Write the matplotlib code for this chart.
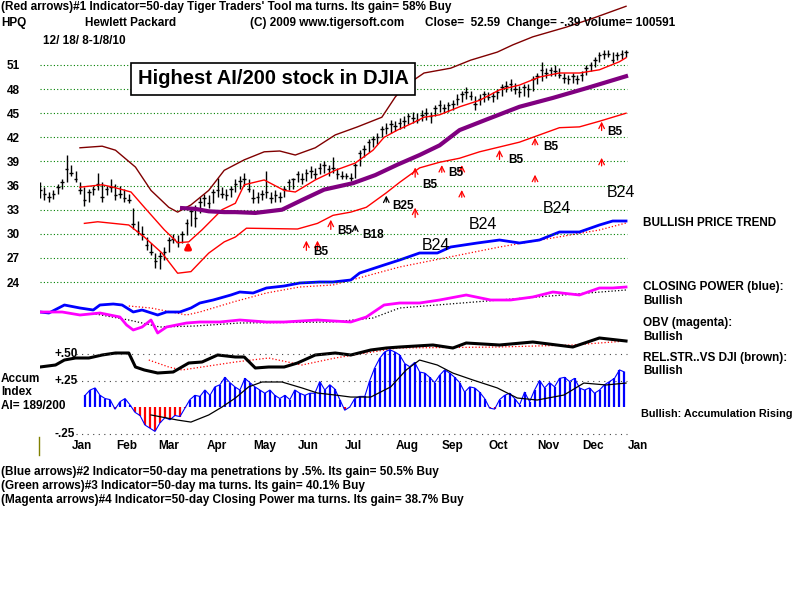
import numpy as np
import matplotlib.pyplot as plt
from matplotlib.lines import Line2D

plt.rcParams['font.family'] = ['Liberation Sans', 'DejaVu Sans']

# price bars, one every 2 trading days from 12/18/08 to 1/8/10
bar_high = [36.5, 35.8, 35.2, 35.5, 36.2, 36.8, 39.8, 38.6, 37.8, 36.5,
            35.8, 35.6, 36.0, 37.6, 36.4, 36.0, 36.8, 36.2, 36.0, 35.6,
            35.0, 33.2, 31.6, 31.0, 29.6, 28.8, 27.6, 27.8, 28.4, 29.6,
            30.0, 29.8, 30.4, 31.8, 33.2, 33.6, 34.6, 35.0, 34.8, 35.6,
            37.0, 35.8, 35.6, 36.0, 36.8, 37.2, 37.6, 36.8, 35.6, 35.2,
            35.4, 37.8, 35.2, 35.4, 35.2, 36.0, 36.8, 37.0, 37.8, 37.6,
            38.0, 38.4, 38.2, 38.8, 39.0, 38.6, 39.6, 38.2, 37.8, 37.6,
            37.6, 38.8, 40.4, 41.0, 41.8, 42.2, 42.6, 43.4, 43.8, 44.2,
            44.0, 44.4, 44.6, 45.0, 45.2, 45.0, 45.4, 45.6, 45.2, 46.0,
            46.6, 46.2, 46.4, 46.6, 47.4, 47.8, 48.2, 47.8, 47.2, 47.4,
            47.8, 47.6, 47.6, 48.0, 48.6, 49.0, 49.2, 48.8, 48.4, 48.6,
            48.6, 49.6, 50.0, 51.4, 50.6, 50.8, 51.0, 50.6, 50.0, 49.8,
            50.0, 49.8, 50.2, 51.0, 51.4, 52.0, 52.6, 52.8, 52.8, 52.6,
            52.6, 52.8, 52.8]
bar_low = [34.5, 34.2, 34.0, 34.3, 35.0, 35.6, 36.5, 37.2, 36.4, 35.0,
           33.4, 34.0, 34.8, 35.4, 34.0, 34.8, 35.2, 34.2, 34.4, 34.0,
           33.8, 30.6, 29.8, 29.2, 28.0, 27.4, 25.8, 25.6, 26.8, 27.8,
           28.8, 28.4, 28.8, 29.8, 31.0, 30.8, 32.6, 33.4, 33.2, 33.8,
           34.6, 34.4, 34.2, 34.6, 35.2, 35.6, 36.0, 35.2, 33.8, 33.8,
           34.2, 34.4, 33.8, 34.0, 33.9, 34.6, 35.4, 35.6, 36.4, 36.2,
           36.6, 37.0, 36.8, 37.4, 37.6, 37.2, 37.6, 36.8, 36.8, 36.8,
           36.6, 37.0, 38.4, 39.6, 40.2, 40.8, 41.2, 42.0, 42.4, 42.6,
           42.8, 43.0, 43.2, 43.6, 43.8, 43.8, 44.0, 44.2, 43.8, 44.6,
           45.2, 45.0, 45.2, 45.4, 46.0, 46.4, 46.8, 46.6, 45.4, 46.0,
           46.4, 46.6, 46.4, 46.8, 47.2, 47.6, 47.8, 47.4, 47.0, 47.2,
           47.0, 47.8, 48.6, 49.0, 49.4, 49.6, 49.6, 49.4, 48.8, 48.6,
           48.8, 48.6, 49.0, 49.8, 50.2, 50.8, 51.4, 51.8, 52.0, 51.2,
           51.6, 51.8, 52.0]
bar_close = [35.5, 35.0, 34.6, 35.0, 35.8, 36.4, 38.0, 37.6, 36.8, 35.5,
             34.2, 35.2, 35.6, 36.2, 34.6, 35.6, 35.8, 34.8, 35.0, 34.4,
             34.2, 31.2, 30.4, 30.0, 28.6, 27.8, 26.6, 27.2, 27.8, 29.2,
             29.4, 29.0, 30.0, 31.4, 32.8, 32.0, 34.0, 34.4, 33.8, 35.2,
             35.4, 35.0, 34.8, 35.6, 36.2, 36.6, 36.8, 35.6, 34.4, 34.6,
             35.0, 35.2, 34.4, 34.8, 34.6, 35.6, 36.4, 36.8, 37.4, 36.8,
             37.6, 37.8, 37.4, 38.2, 38.6, 38.0, 38.2, 37.4, 37.2, 37.2,
             37.0, 38.6, 40.0, 40.6, 41.4, 41.8, 42.0, 43.0, 43.2, 43.6,
             43.4, 43.8, 44.0, 44.6, 44.4, 44.2, 44.8, 45.0, 44.6, 45.6,
             46.0, 45.6, 46.0, 46.2, 46.8, 47.4, 47.6, 47.2, 46.2, 46.8,
             47.4, 47.0, 47.2, 47.6, 48.2, 48.4, 48.6, 48.0, 47.6, 48.2,
             48.0, 49.2, 49.6, 50.4, 50.0, 50.4, 50.2, 49.8, 49.4, 49.2,
             49.6, 49.2, 49.8, 50.6, 51.0, 51.6, 52.2, 52.4, 52.4, 51.6,
             52.2, 52.4, 52.59]

# bands and moving averages (trading day, price)
upper_days = [18, 28, 34, 43, 50, 58, 62, 68, 76, 83, 92, 101, 108, 115,
              124, 133, 143, 154, 160, 164, 173, 185, 194, 206, 213, 222,
              237, 249, 264]
upper_band = [40.7, 40.9, 40.4, 38.3, 35.4, 33.3, 32.7, 33.6, 35.4, 37.9,
              39.2, 40.2, 40.3, 39.8, 40.7, 42.3, 43.3, 44.5, 47.0, 48.3,
              50.0, 50.6, 51.6, 52.6, 53.5, 54.5, 55.7, 56.8, 58.3]
mid_days = [18, 28, 33, 41, 47, 56, 62, 67, 73, 82, 88, 92, 101, 110, 115,
            124, 133, 142, 150, 155, 161, 168, 173, 180, 189, 198, 207,
            216, 225, 234, 243, 252, 261, 264]
mid_ma = [35.8, 36.1, 35.8, 35.2, 33.3, 30.5, 28.9, 29.0, 30.5, 33.0,
          33.8, 36.1, 36.7, 35.4, 35.2, 36.7, 37.9, 38.8, 40.4, 42.0,
          42.9, 43.8, 44.5, 44.8, 45.8, 46.6, 47.9, 48.5, 49.5, 50.0,
          50.0, 50.4, 51.4, 51.9]
lower_days = [20, 26, 40, 47, 55, 62, 68, 76, 83, 88, 93, 116, 125, 132,
              140, 147, 156, 162, 171, 180, 189, 198, 207, 216, 225, 234,
              243, 252, 264]
lower_band = [31.3, 31.5, 31.1, 29.6, 27.6, 25.1, 25.3, 27.6, 29.0, 29.6,
              30.7, 30.6, 31.3, 32.3, 32.7, 33.3, 35.1, 36.4, 38.2, 38.9,
              39.4, 40.2, 40.8, 41.4, 42.3, 43.2, 43.3, 44.0, 45.0]
ma50_days = [64, 70, 76, 83, 88, 97, 109, 118, 128, 141, 151, 161, 171, 180,
             189, 201, 216, 231, 246, 264]
ma50 = [33.2, 33.1, 32.8, 32.7, 32.7, 32.6, 33.0, 34.2, 35.5, 36.3, 37.3,
        38.6, 39.8, 41.0, 42.9, 44.2, 45.8, 46.9, 48.1, 49.6]

# closing power (blue), OBV (magenta), rel. strength vs DJI (black)
cp_days = [0, 4, 11, 18, 24, 27, 33, 37, 42, 46, 53, 57, 63, 68, 72, 78, 86,
           90, 96, 102, 110, 117, 126, 132, 140, 144, 155, 162, 171, 179,
           185, 197, 207, 216, 225, 234, 243, 252, 258, 264]
cp = [44, 43.5, 47.5, 46, 45, 47.5, 48, 47.5, 44, 45, 42.5, 44, 44, 46, 48.5,
      50, 52.5, 54, 53.5, 56, 57, 58.5, 59, 59, 60, 63.5, 67.5, 70, 73.5,
      73.5, 76.5, 78.5, 80, 78.5, 80, 84, 84, 87.5, 89.5, 89.5]
cp_ma_days = [40, 50, 66, 72, 87, 102, 117, 132, 162, 207, 252, 264]
cp_ma = [47, 46, 42.5, 44, 49, 53.5, 56.5, 57.5, 66.5, 76.5, 85, 88.5]
obv_days = [0, 10, 18, 27, 36, 39, 42, 46, 50, 53, 57, 66, 72, 81, 90, 102,
            110, 125, 140, 147, 155, 162, 171, 180, 192, 203, 212, 222, 231,
            243, 252, 258, 264]
obv = [44, 44, 42.5, 43.5, 41.5, 37.5, 35, 36.5, 40, 33.5, 36.5, 38.5, 39,
       39, 40, 39, 39, 40, 39, 41.5, 47.5, 48.5, 48.5, 50, 52.5, 50, 50,
       51.5, 54, 52.5, 56, 56, 56.5]
obv_ma_days = [25, 40, 54, 70, 90, 132, 150, 162, 207, 264]
obv_ma = [43, 40, 36.5, 37, 38.5, 39, 41, 46, 50, 55]
rs_days = [0, 7, 11, 16, 22, 28, 34, 40, 43, 47, 53, 60, 67, 73, 80, 88, 92,
           97, 103, 110, 116, 124, 133, 140, 149, 156, 162, 177, 186, 192,
           207, 222, 240, 252, 264]
rs = [16.5, 17.5, 20, 21, 21, 22.5, 23.5, 23.5, 16.5, 15, 13.5, 14, 18.5, 19,
      22.5, 21.5, 21.5, 16, 16.5, 16.5, 18.5, 22.5, 23.5, 22.5, 25, 26, 26.5,
      27.5, 26, 28.5, 27.5, 29, 26.5, 31, 29.5]
rs_ma_days = [49, 58, 64, 73, 88, 103, 118, 133, 161, 207, 240, 264]
rs_ma = [20, 16.5, 15, 16.5, 19, 21, 17.5, 21, 26, 26.5, 27.5, 29.5]

# accumulation index, read every 2.25 trading days from day 20
accum = [0.11, 0.16, 0.18, 0.11, 0.08, 0.07, -0.02, 0.05, 0.08, 0.02,
         -0.05, -0.08, -0.17, -0.20, -0.23, -0.15, -0.10, -0.12, -0.08, -0.09,
         -0.01, 0.07, 0.11, 0.10, 0.16, 0.11, 0.19, 0.21, 0.28, 0.23,
         0.19, 0.16, 0.27, 0.23, 0.19, 0.16, 0.13, 0.16, 0.11, 0.08,
         0.11, 0.07, 0.16, 0.13, 0.11, 0.13, 0.13, 0.24, 0.16, 0.21,
         0.17, 0.07, -0.03, 0.00, 0.08, 0.10, 0.10, 0.25, 0.37, 0.46,
         0.52, 0.54, 0.52, 0.49, 0.41, 0.38, 0.42, 0.33, 0.32, 0.28,
         0.23, 0.30, 0.35, 0.32, 0.28, 0.23, 0.14, 0.19, 0.18, 0.14,
         0.08, -0.01, -0.02, 0.07, 0.11, 0.13, 0.08, 0.02, 0.14, 0.05,
         0.16, 0.25, 0.18, 0.23, 0.19, 0.27, 0.28, 0.24, 0.27, 0.18,
         0.16, 0.18, 0.13, 0.16, 0.21, 0.24, 0.27, 0.35, 0.33]
accum_ma_days = [50, 62, 68, 76, 82, 88, 94, 100, 109, 118, 125, 133, 140,
                 149, 158, 165, 171, 179, 186, 195, 206, 215, 224, 236, 245,
                 255, 264]
accum_ma = [-0.075, -0.123, -0.142, -0.075, 0.0, 0.085, 0.19, 0.236, 0.236,
            0.18, 0.132, 0.113, 0.094, 0.094, 0.19, 0.35, 0.443, 0.396, 0.32,
            0.255, 0.18, 0.085, 0.066, 0.113, 0.226, 0.208, 0.226]

# signal arrows (trading day, tip, base)
red_arrow_days = [120, 125, 131, 169, 169, 181, 190, 190, 207, 223, 223, 253, 253]
red_arrow_tips = [29.5, 29.5, 32.1, 33.6, 38.6, 38.9, 38.9, 35.8, 40.8, 42.3, 37.7, 44.3, 39.8]
red_arrow_bases = [27.6, 27.6, 30.2, 31.7, 36.7, 37.3, 37.1, 34.2, 38.9, 40.7, 36.1, 42.5, 38.1]
black_arrow_days = [142, 156]
black_arrow_tips = [31.5, 35.1]
black_arrow_bases = [30.1, 33.6]
sig_labels = ['B5', 'B5', 'B18', 'B25', 'B5', 'B5', 'B5', 'B5', 'B5']
sig_label_days = [123, 134, 145, 158.5, 172, 184, 211, 226.5, 255.5]
sig_label_prices = [27.7, 30.3, 29.8, 33.4, 36.1, 37.6, 39.2, 40.8, 42.7]
b24_days = [172, 193, 226.5, 255.5]
b24_prices = [28.6, 31.2, 33.1, 35.1]

price_grid = list(range(24, 52, 3))
months = ['Jan', 'Feb', 'Mar', 'Apr', 'May', 'Jun', 'Jul', 'Aug', 'Sep',
          'Oct', 'Nov', 'Dec', 'Jan']
month_days = [18.9, 39.2, 58.1, 79.7, 101.4, 120.7, 141.4, 165.3, 185.6,
              206.3, 228.8, 249.1, 269.4]

LAST = 264.4
XLIM = (0, 279.3)
BOLD = dict(fontweight='bold', fontsize=8.5)

fig = plt.figure(figsize=(8, 6), dpi=100)
fig.patch.set_facecolor('white')

ax_ind = fig.add_axes([0.05, 1 - 400 / 600, 0.775, 200 / 600])
ax_acc = fig.add_axes([0.05, 1 - 440 / 600, 0.775, 100 / 600])
ax = fig.add_axes([0.05, 0.5, 0.775, 0.5])
for a in (ax, ax_ind, ax_acc):
    a.set_xlim(*XLIM)
    a.patch.set_visible(False)
    for s in a.spines.values():
        s.set_visible(False)
    a.set_xticks([])
    a.set_yticks([])

# ---- price panel ----
ax.set_ylim(21.77, 59.08)
ax.hlines(price_grid, 0, LAST, colors='#008000', linestyles=(0, (1, 2)), lw=0.8)
ax.set_yticks(price_grid, [str(p) for p in price_grid])
ax.tick_params(axis='y', length=0, pad=24)
for t in ax.get_yticklabels():
    t.set_fontweight('bold')
    t.set_fontsize(8.5)
    t.set_ha('left')

days = np.arange(len(bar_close)) * 2.0
ax.vlines(days, bar_low, bar_high, colors='black', lw=1.0)
ax.hlines(bar_close, days - 0.8, days + 0.8, colors='black', lw=1.0)

ax.plot(upper_days, upper_band, color='#800000', lw=1)
ax.plot(mid_days, mid_ma, color='#ff0000', lw=1)
ax.plot(lower_days, lower_band, color='#ff0000', lw=1)
ax.plot(ma50_days, ma50, color='#800080', lw=3)

for d, t0, b0 in zip(red_arrow_days, red_arrow_tips, red_arrow_bases):
    ax.annotate('', xy=(d, t0), xytext=(d, b0),
                arrowprops=dict(arrowstyle='->', color='#ff0000', lw=0.9))
for d, t0, b0 in zip(black_arrow_days, black_arrow_tips, black_arrow_bases):
    ax.annotate('', xy=(d, t0), xytext=(d, b0),
                arrowprops=dict(arrowstyle='->', color='black', lw=0.9))
ax.annotate('', xy=(66.7, 29.4), xytext=(66.7, 27.7),
            arrowprops=dict(arrowstyle='-|>', color='#ff0000', lw=2.5,
                            mutation_scale=8))
for lab, d, p in zip(sig_labels, sig_label_days, sig_label_prices):
    ax.text(d, p, lab, ha='left', va='center', **BOLD)
for d, p in zip(b24_days, b24_prices):
    ax.text(d, p, 'B24', ha='left', va='center', fontsize=11.5)

# ---- closing power / OBV / rel. strength ----
ax_ind.set_ylim(0, 100)
ax_ind.plot(cp_ma_days, cp_ma, color='#ff0000', lw=0.9, ls=':')
ax_ind.plot(cp_days, cp, color='#0000ff', lw=2)
ax_ind.plot(obv_ma_days, obv_ma, color='black', lw=0.9, ls=':')
ax_ind.plot(obv_days, obv, color='#ff00ff', lw=2)
ax_ind.plot(rs_ma_days, rs_ma, color='#ff0000', lw=0.9, ls=':')
ax_ind.plot(rs_days, rs, color='black', lw=2.2)

# ---- accumulation index ----
ax_acc.set_ylim(-0.311, 0.632)
ax_acc.hlines([0.5, 0.25, -0.25], 16, LAST, colors='#444444',
              linestyles=(0, (1, 4)), lw=0.8)
acc_days = 20.3 + np.arange(len(accum)) * 2.25
acc = np.array(accum)
ax_acc.vlines(acc_days, 0, acc, colors=np.where(acc >= 0, '#0000ff', '#ff0000'), lw=1.6)
ax_acc.plot(acc_days, acc, color='#0000ff', lw=0.8)
ax_acc.plot(accum_ma_days, accum_ma, color='black', lw=0.9)
for v, lab in zip([0.5, 0.25, -0.25], ['+.50', '+.25', '-.25']):
    ax_acc.text(6.5, v, lab, ha='left', va='center', **BOLD)
ax_acc.set_xticks(month_days, months)
ax_acc.tick_params(axis='x', length=0, pad=0)
for t in ax_acc.get_xticklabels():
    t.set_fontweight('bold')
    t.set_fontsize(8.5)

fig.add_artist(Line2D([39 / 800, 39 / 800], [1 - 437 / 600, 1 - 455 / 600],
                      color='#808000', lw=1))

# ---- texts ----
def ftxt(x, y, s, **kw):
    opts = dict(BOLD)
    opts.update(kw)
    fig.text(x / 800, 1 - y / 600, s, va='center', ha='left', **opts)

ftxt(1, 7, "(Red arrows)#1 Indicator=50-day Tiger Traders' Tool ma turns. Its gain= 58% Buy")
ftxt(1, 23, "HPQ")
ftxt(85, 23, "Hewlett Packard")
ftxt(250, 23, "(C) 2009 www.tigersoft.com")
ftxt(425, 23, "Close=  52.59  Change= -.39 Volume= 100591")
ftxt(43, 41, "12/ 18/ 8-1/8/10")
fig.text(273 / 800, 1 - 79 / 600, "Highest AI/200 stock in DJIA", ha='center',
         va='center', fontsize=14.5, fontweight='bold',
         bbox=dict(facecolor='white', edgecolor='black', lw=1.2,
                   boxstyle='square,pad=0.33'))

ftxt(643, 223, "BULLISH PRICE TREND")
ftxt(643, 287, "CLOSING POWER (blue):")
ftxt(643, 301, "Bullish")
ftxt(643, 323, "OBV (magenta):")
ftxt(643, 337, "Bullish")
ftxt(643, 358, "REL.STR..VS DJI (brown):")
ftxt(643, 371, "Bullish")
ftxt(641, 414, "Bullish: Accumulation Rising", fontsize=7.8)
ftxt(1, 379, "Accum")
ftxt(1, 392, "Index")
ftxt(1, 406, "AI= 189/200")

ftxt(1, 472, "(Blue arrows)#2 Indicator=50-day ma penetrations by .5%. Its gain= 50.5% Buy")
ftxt(1, 486, "(Green arrows)#3 Indicator=50-day ma turns. Its gain= 40.1% Buy")
ftxt(1, 500, "(Magenta arrows)#4 Indicator=50-day Closing Power ma turns. Its gain= 38.7% Buy")

fig.savefig('out.png', dpi=100, facecolor='white')
